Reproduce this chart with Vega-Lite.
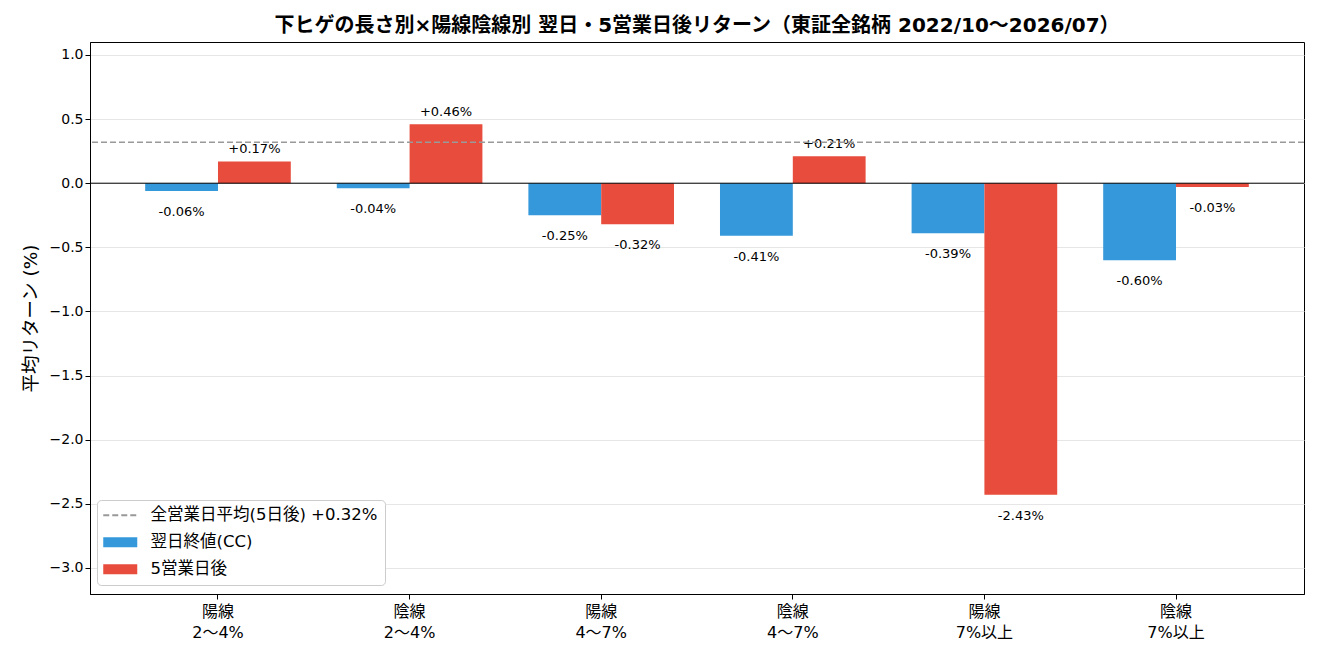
{
  "$schema": "https://vega.github.io/schema/vega-lite/v6.json",
  "width": 1214,
  "height": 552,
  "autosize": "none",
  "padding": {"left": 90, "top": 42, "right": 16, "bottom": 66},
  "background": "white",
  "config": {
    "font": "DejaVu Sans, Noto Sans CJK JP",
    "view": {"stroke": "black", "strokeWidth": 1},
    "axis": {"labelColor": "#000", "titleColor": "#000", "domainColor": "#000", "tickColor": "#000"}
  },
  "title": {
    "text": "下ヒゲの長さ別×陽線陰線別 翌日・5営業日後リターン（東証全銘柄 2022/10〜2026/07）",
    "fontSize": 20,
    "fontWeight": "bold",
    "color": "#000",
    "anchor": "middle",
    "offset": 6
  },
  "data": {
    "values": [
      {"grp": "陽線 2〜4%", "series": "翌日終値(CC)", "v": -0.06},
      {"grp": "陽線 2〜4%", "series": "5営業日後", "v": 0.17},
      {"grp": "陰線 2〜4%", "series": "翌日終値(CC)", "v": -0.04},
      {"grp": "陰線 2〜4%", "series": "5営業日後", "v": 0.46},
      {"grp": "陽線 4〜7%", "series": "翌日終値(CC)", "v": -0.25},
      {"grp": "陽線 4〜7%", "series": "5営業日後", "v": -0.32},
      {"grp": "陰線 4〜7%", "series": "翌日終値(CC)", "v": -0.41},
      {"grp": "陰線 4〜7%", "series": "5営業日後", "v": 0.21},
      {"grp": "陽線 7%以上", "series": "翌日終値(CC)", "v": -0.39},
      {"grp": "陽線 7%以上", "series": "5営業日後", "v": -2.43},
      {"grp": "陰線 7%以上", "series": "翌日終値(CC)", "v": -0.60},
      {"grp": "陰線 7%以上", "series": "5営業日後", "v": -0.03}
    ]
  },
  "transform": [
    {"calculate": "(datum.v >= 0 ? '+' : '-') + format(abs(datum.v), '.2f') + '%'", "as": "lbl"}
  ],
  "encoding": {
    "x": {
      "field": "grp",
      "type": "nominal",
      "sort": ["陽線 2〜4%", "陰線 2〜4%", "陽線 4〜7%", "陰線 4〜7%", "陽線 7%以上", "陰線 7%以上"],
      "scale": {"paddingInner": 0.24, "paddingOuter": 0.288},
      "axis": {
        "title": null,
        "labelAngle": 0,
        "labelFontSize": 16,
        "labelLineHeight": 21,
        "labelExpr": "split(datum.label, ' ')",
        "labelPadding": 4,
        "tickSize": 5,
        "grid": false
      }
    },
    "xOffset": {
      "field": "series",
      "type": "nominal",
      "scale": {"domain": ["翌日終値(CC)", "5営業日後"], "paddingInner": 0, "paddingOuter": 0}
    }
  },
  "layer": [
    {
      "mark": {"type": "bar"},
      "encoding": {
        "y": {
          "field": "v",
          "type": "quantitative",
          "scale": {"domain": [-3.203, 1.101], "nice": false, "zero": false},
          "axis": {
            "title": "平均リターン (%)",
            "titleFontSize": 18.5,
            "titleFontWeight": "normal",
            "titlePadding": 9,
            "values": [-3, -2.5, -2, -1.5, -1, -0.5, 0, 0.5, 1],
            "format": ".1f",
            "labelFontSize": 14,
            "tickSize": 5,
            "gridColor": "#e6e6e6",
            "gridWidth": 1
          }
        },
        "color": {
          "field": "series",
          "type": "nominal",
          "scale": {
            "domain": ["全営業日平均(5日後) +0.32%", "翌日終値(CC)", "5営業日後"],
            "range": ["#999999", "#3498db", "#e74c3c"]
          },
          "legend": {
            "title": null,
            "orient": "none",
            "legendX": 7,
            "legendY": 458,
            "fillColor": "white",
            "strokeColor": "#cccccc",
            "cornerRadius": 4,
            "padding": 7,
            "rowPadding": 10,
            "labelFontSize": 16.5,
            "labelColor": "#000",
            "symbolOffset": 8,
            "labelOffset": 22,
            "labelLimit": 400,
            "symbolSize": 1156,
            "encode": {
              "symbols": {
                "update": {
                  "shape": {"signal": "datum.label == '全営業日平均(5日後) +0.32%' ? 'M-1,0H1' : 'M-1,-0.3H1V0.3H-1Z'"},
                  "stroke": {"signal": "scale('color', datum.value)"},
                  "strokeWidth": {"signal": "datum.label == '全営業日平均(5日後) +0.32%' ? 1.8 : 0"},
                  "strokeDash": {"signal": "datum.label == '全営業日平均(5日後) +0.32%' ? [6, 3] : [1, 0]"}
                }
              }
            }
          }
        }
      }
    },
    {
      "transform": [{"filter": "datum.v >= 0"}],
      "mark": {"type": "text", "baseline": "bottom", "dy": -5, "fontSize": 13, "color": "#000"},
      "encoding": {
        "y": {"field": "v", "type": "quantitative"},
        "text": {"field": "lbl"}
      }
    },
    {
      "transform": [{"filter": "datum.v < 0"}],
      "mark": {"type": "text", "baseline": "top", "dy": 15, "fontSize": 13, "color": "#000"},
      "encoding": {
        "y": {"field": "v", "type": "quantitative"},
        "text": {"field": "lbl"}
      }
    },
    {
      "data": {"values": [{"y": 0}]},
      "mark": {"type": "rule", "color": "#000", "strokeWidth": 1},
      "encoding": {"y": {"field": "y", "type": "quantitative"}, "x": null, "xOffset": null}
    },
    {
      "data": {"values": [{"y": 0.32}]},
      "mark": {"type": "rule", "color": "#999999", "strokeWidth": 1.5, "strokeDash": [6, 3]},
      "encoding": {"y": {"field": "y", "type": "quantitative"}, "x": null, "xOffset": null}
    }
  ]
}
